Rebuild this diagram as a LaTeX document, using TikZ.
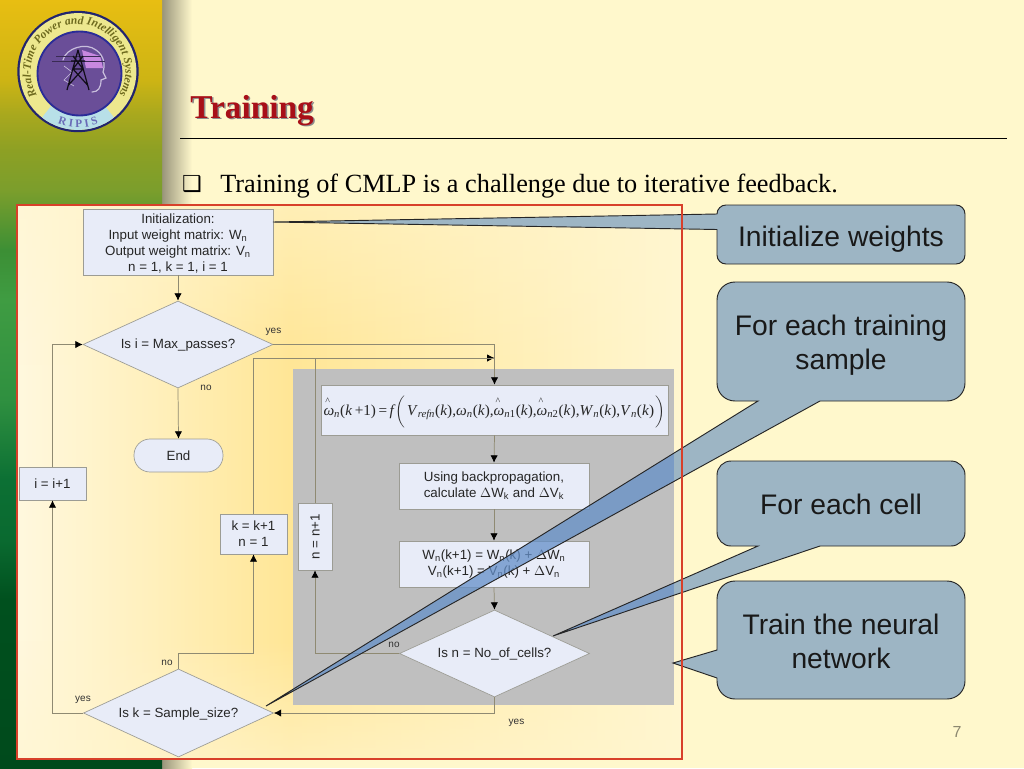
\documentclass[tikz,border=0pt]{standalone}
\usepackage{fontspec}
\setmainfont{Liberation Sans}
\newfontfamily\serifface{Liberation Serif}
\newfontfamily\symface{DejaVu Sans}
\usetikzlibrary{shapes.geometric,arrows.meta,decorations.text,calc,fadings}
\definecolor{bgcream}{HTML}{FFF8CC}
\definecolor{boxfill}{HTML}{E8ECF8}
\definecolor{boxline}{HTML}{9C9C94}
\definecolor{wire}{HTML}{8F8A72}
\definecolor{greyzone}{HTML}{BFBFBF}
\definecolor{callfill}{HTML}{9DB5C4}
\definecolor{tailblue}{HTML}{648FC8}
\definecolor{framered}{HTML}{D8402A}
\definecolor{titlered}{HTML}{A80F18}
\definecolor{ringyellow}{HTML}{EDE88E}
\definecolor{ringnavy}{HTML}{22246E}
\definecolor{logopurple}{HTML}{6A4E98}
\definecolor{logoblue}{HTML}{2A2C98}
\definecolor{logopink}{HTML}{C888E0}
\definecolor{logopale}{HTML}{C8BEDC}
\definecolor{logotext}{HTML}{6E6A1E}
\definecolor{bannerblue}{HTML}{B8E0E8}
\definecolor{p1}{HTML}{E8BE12}\definecolor{p1a}{HTML}{CDB414}\definecolor{p1b}{HTML}{A8A81E}
\definecolor{p1c}{HTML}{8DA024}\definecolor{p2}{HTML}{7B9E2C}\definecolor{p2b}{HTML}{3C8F35}
\definecolor{p3}{HTML}{3F9C42}\definecolor{p4}{HTML}{2F9040}\definecolor{p5}{HTML}{0C7034}
\definecolor{p6}{HTML}{0A6A30}\definecolor{p7}{HTML}{00501E}\definecolor{p8}{HTML}{004A1C}
\definecolor{f1}{HTML}{FFF8DE}\definecolor{f2}{HTML}{FFF0BD}\definecolor{f3}{HTML}{FFE696}\definecolor{f4}{HTML}{FFF6D0}
\pgfdeclareverticalshading{panelshade}{100bp}{
 color(0bp)=(p8); color(25bp)=(p8); color(35.9bp)=(p7); color(39.8bp)=(p6); color(43.8bp)=(p5);
 color(49bp)=(p4); color(55.5bp)=(p3); color(58.7bp)=(p2b); color(62.6bp)=(p2); color(65.2bp)=(p1c);
 color(67.5bp)=(p1b); color(69.8bp)=(p1a); color(75bp)=(p1); color(100bp)=(p1)}
\pgfdeclarehorizontalshading{frameshade}{100bp}{
 color(0bp)=(f1); color(25bp)=(f1); color(35bp)=(f2); color(45.5bp)=(f3); color(75bp)=(f4); color(100bp)=(f4)}
\newcommand\hatw{\rlap{\raisebox{8pt}{\kern1.4pt\fontsize{7.5}{7.5}\selectfont\textasciicircum}}\textit{ω}}
\newcommand\calloutb{(tip2) -- (758,401) -- (735,401) arc[start angle=-90,end angle=-180,radius=13.5pt] -- (717,300) arc[start angle=180,end angle=90,radius=13.5pt] -- (947,282) arc[start angle=90,end angle=0,radius=13.5pt] -- (965,383) arc[start angle=0,end angle=-90,radius=13.5pt] -- (820,401) -- cycle}
\newcommand\calloutc{(tip3) -- (758,546) -- (731,546) arc[start angle=-90,end angle=-180,radius=10.5pt] -- (717,475) arc[start angle=180,end angle=90,radius=10.5pt] -- (951,461) arc[start angle=90,end angle=0,radius=10.5pt] -- (965,532) arc[start angle=0,end angle=-90,radius=10.5pt] -- (820,546) -- cycle}
\tikzset{
 x=0.75pt,y=-0.75pt,
 flowbox/.style={draw=boxline,fill=boxfill,line width=.5pt,align=center,inner sep=0pt,font=\fontsize{10}{12}\selectfont,text=black!85},
 flowdiamond/.style={flowbox,shape=diamond,aspect=2.18,text height=8.5pt,text depth=2pt},
 wireline/.style={draw=wire,line width=.55pt},
 wirearrow/.style={wireline,-{Latex[length=5.5pt,width=5.5pt,color=black,fill=black]}},
 tag/.style={font=\fontsize{7.5}{9}\selectfont,text=black!80,inner sep=0pt},
 calltext/.style={font=\fontsize{21.2}{25.5}\selectfont,align=center,text=black!90,inner sep=0pt},
 callline/.style={draw=black!85,line width=.7pt},
}
\begin{document}
\begin{tikzpicture}
\useasboundingbox (0,0) rectangle (1024,768);
% slide background
\fill[bgcream] (0,0) rectangle (1024,768);
\shade[left color=black!40!bgcream,right color=bgcream] (162,0) rectangle (192,768);
\shade[shading=panelshade] (0,0) rectangle (162,768);
% logo
\coordinate (logoc) at (78,71.5);
\coordinate (logoi) at (79.5,73.5);
\fill[ringnavy] (logoc) circle[radius=45.5pt];
\fill[ringyellow] (logoc) circle[radius=43.8pt];
\fill[bannerblue] ($(logoc)+(232:43.8pt)$) arc[start angle=232,end angle=308,radius=43.8pt] -- ($(logoc)+(308:33pt)$) arc[start angle=308,end angle=232,radius=33pt] -- cycle;
\fill[fill=logopurple,draw=logoblue,line width=1.4pt] (logoi) circle[radius=31.5pt];
\fill[logopink] (82,50) -- (100,56) -- (103,68) -- (86,68) -- cycle;
\draw[logopale,line width=.9pt,line cap=round] (63,60) .. controls (66,48) and (86,42) .. (96,50) .. controls (105,56) and (105,66) .. (103,72) -- (106,78) -- (101,80) .. controls (101,88) and (98,92) .. (92,92);
\draw[logopale,line width=.5pt] (64,66) -- (72,72) -- (64,80) -- (74,86);
\draw[black!45!logopurple,line width=.35pt] (52,61) -- (105,61) (56,56) -- (101,56);
\draw[black!85!logopurple,line width=.9pt,line join=round] (67,90) -- (78,50) -- (89,90) (73,69) -- (83,69) (68.5,85) -- (83,69) (87.5,85) -- (73,69) (73,69) -- (83,56) (83,69) -- (73,56) (71,61) -- (85,61);
\path[decorate,decoration={text along path,text align=center,text={|\fontsize{8.7}{9}\selectfont\serifface\bfseries\itshape\color{logotext}|Real-Time Power and Intelligent Systems}}]
  ($(logoc)+(214:35.5pt)$) arc[start angle=214,end angle=-34,radius=35.5pt];
\path[decorate,decoration={text along path,text align=center,text={|\fontsize{8.5}{9}\selectfont\serifface\bfseries\color{logoblue!70!white}|R I P I S}}]
  ($(logoc)+(238:42pt)$) arc[start angle=238,end angle=302,radius=42pt];
% header
\node[text=black!45,font=\fontsize{25}{28}\selectfont\serifface\bfseries,anchor=base west,inner sep=0pt] (titleshadow) at (191.6,119.6) {Training};
\node[text=titlered,font=\fontsize{25}{28}\selectfont\serifface\bfseries,anchor=base west,inner sep=0pt] (title) at (190,118) {Training};
\coordinate (rulea) at (180,138);
\coordinate (ruleb) at (1007,138);
\draw[black,line width=.7pt] (rulea) -- (ruleb);
\node[font=\fontsize{16.5}{16}\selectfont\symface,inner sep=0pt] (bullet) at (192,184) {❑};
\node[font=\fontsize{19.7}{22}\selectfont\serifface,anchor=base west,inner sep=0pt] (lead) at (220,192) {Training of CMLP is a challenge due to iterative feedback.};
% chart area
\shade[shading=frameshade] (17,205) rectangle (682,759);
\fill[f4,opacity=.55,path fading=south] (17,205) rectangle (682,365);
\fill[f4,opacity=.6,path fading=north] (17,640) rectangle (682,759);
\fill[greyzone] (293,369) rectangle (674,705);
% nodes
\node[flowbox,minimum width=142.5pt,minimum height=49.5pt] (init) at (178,242) {\rule{0pt}{9.5pt}Initialization:\\Input weight matrix: W\textsubscript{n}\\Output weight matrix: V\textsubscript{n}\\n = 1, k = 1, i = 1};
\node[flowdiamond,minimum width=142.5pt,minimum height=65.25pt] (dmax) at (178,344.5) {Is i = Max\_passes?};
\node[flowbox,rounded corners=12pt,minimum width=66.75pt,minimum height=24.75pt] (endn) at (178.5,455.5) {End};
\node[flowbox,minimum width=50.25pt,minimum height=24.75pt] (ibox) at (52.5,483.5) {i = i+1};
\node[flowbox,minimum width=50.25pt,minimum height=30pt] (kbox) at (253.5,534) {k = k+1\\n = 1};
\node[flowbox,minimum width=25.5pt,minimum height=50.25pt] (nbox) at (315,536.5) {\rotatebox{90}{n = n+1}};
\node[flowbox,minimum width=260.25pt,minimum height=37.5pt,text height=19pt,text depth=11pt] (formula) at (494.5,410) {\serifface\fontsize{11.4}{12}\selectfont\hatw\textsubscript{\textit{n}}(\textit{k}\,+1)\,=\,\textit{f}$\left(\vphantom{\rule{0pt}{14pt}}\right.$\textit{V}\textsubscript{\textit{refn}}(\textit{k}),\textit{ω}\textsubscript{\textit{n}}(\textit{k}),\hatw\textsubscript{\textit{n}1}(\textit{k}),\hatw\textsubscript{\textit{n}2}(\textit{k}),\textit{W}\textsubscript{\textit{n}}(\textit{k}),\textit{V}\textsubscript{\textit{n}}(\textit{k})$\left.\vphantom{\rule{0pt}{14pt}}\right)$};
\node[flowbox,minimum width=142.5pt,minimum height=34.5pt] (back) at (494,486) {Using backpropagation,\\calculate $\Delta$W\textsubscript{k} and $\Delta$V\textsubscript{k}};
\node[flowbox,minimum width=142.5pt,minimum height=34.5pt] (upd) at (494,564) {W\textsubscript{n}(k+1) = W\textsubscript{n}(k) + $\Delta$W\textsubscript{n}\\V\textsubscript{n}(k+1) = V\textsubscript{n}(k) + $\Delta$V\textsubscript{n}};
\node[flowdiamond,minimum width=142.5pt,minimum height=65.25pt] (dcell) at (494.5,653.5) {Is n = No\_of\_cells?};
\node[flowdiamond,minimum width=142.5pt,minimum height=66pt] (dsamp) at (178.5,713) {Is k = Sample\_size?};
% connectors
\coordinate (loopend) at (494.5,358);
\coordinate (sampbend) at (178.5,653);
\draw[wirearrow] (init.south) -- (dmax.north);
\draw[wirearrow] (dmax.south) -- (endn.north);
\draw[wirearrow] (dmax.east) -| (formula.north);
\draw[wirearrow] (kbox.north) |- (loopend);
\draw[wireline] (nbox.north) |- (loopend);
\draw[wirearrow] (ibox.north) |- (dmax.west);
\draw[wirearrow] (dsamp.west) -| (ibox.south);
\draw[wirearrow] (dsamp.north) -- (sampbend) -| (kbox.south);
\draw[wirearrow] (dcell.west) -| (nbox.south);
\draw[wirearrow] (dcell.south) |- (dsamp.east);
\draw[wirearrow] (formula.south) -- (back.north);
\draw[wirearrow] (back.south) -- (upd.north);
\draw[wirearrow] (upd.south) -- (dcell.north);
% branch labels
\node[tag] (lyes1) at (273.5,331.5) {yes};
\node[tag] (lno1) at (206,387.5) {no};
\node[tag] (lyes2) at (83,699.5) {yes};
\node[tag] (lno2) at (167,662.5) {no};
\node[tag] (lno3) at (394,644.5) {no};
\node[tag] (lyes3) at (516.5,722.5) {yes};
% callouts
\coordinate (tip1) at (273,222);
\coordinate (tip2) at (266,706);
\coordinate (tip3) at (553,636);
\coordinate (tip4) at (673,663);
% tail parts lying over the chart
\begin{scope}
\clip (0,0) rectangle (674,768);
\fill[tailblue,opacity=.75] (758,401) -- (tip2) -- (820,401) -- cycle;
\fill[tailblue,opacity=.75] (758,546) -- (tip3) -- (820,546) -- cycle;
\end{scope}
\begin{scope}
\clip (674,0) rectangle (1024,768);
\fill[callfill] \calloutb;
\fill[callfill] \calloutc;
\end{scope}
\filldraw[callline,fill=callfill] (tip1) -- (717,214) arc[start angle=180,end angle=90,radius=6.75pt] -- (956,205) arc[start angle=90,end angle=0,radius=6.75pt] -- (965,255) arc[start angle=0,end angle=-90,radius=6.75pt] -- (726,264) arc[start angle=-90,end angle=-180,radius=6.75pt] -- (717,229.5) -- cycle;
\draw[callline] \calloutb;
\draw[callline] \calloutc;
\filldraw[callline,fill=callfill] (tip4) -- (717,650) -- (717,599) arc[start angle=180,end angle=90,radius=13.5pt] -- (947,581) arc[start angle=90,end angle=0,radius=13.5pt] -- (965,681) arc[start angle=0,end angle=-90,radius=13.5pt] -- (735,699) arc[start angle=-90,end angle=-180,radius=13.5pt] -- (717,678) -- cycle;
\node[calltext] (c1) at (841,239) {Initialize weights};
\node[calltext] (c2) at (841,345) {For each training\\sample};
\node[calltext] (c3) at (841,504) {For each cell};
\node[calltext] (c4) at (841,641.5) {Train the neural\\network};
% frame outline and page number
\draw[framered,line width=.9pt] (17,205) rectangle (682,759);
\node[text=black!45!bgcream,font=\fontsize{12}{14}\selectfont,inner sep=0pt] (pageno) at (957,732) {7};
\end{tikzpicture}
\end{document}
